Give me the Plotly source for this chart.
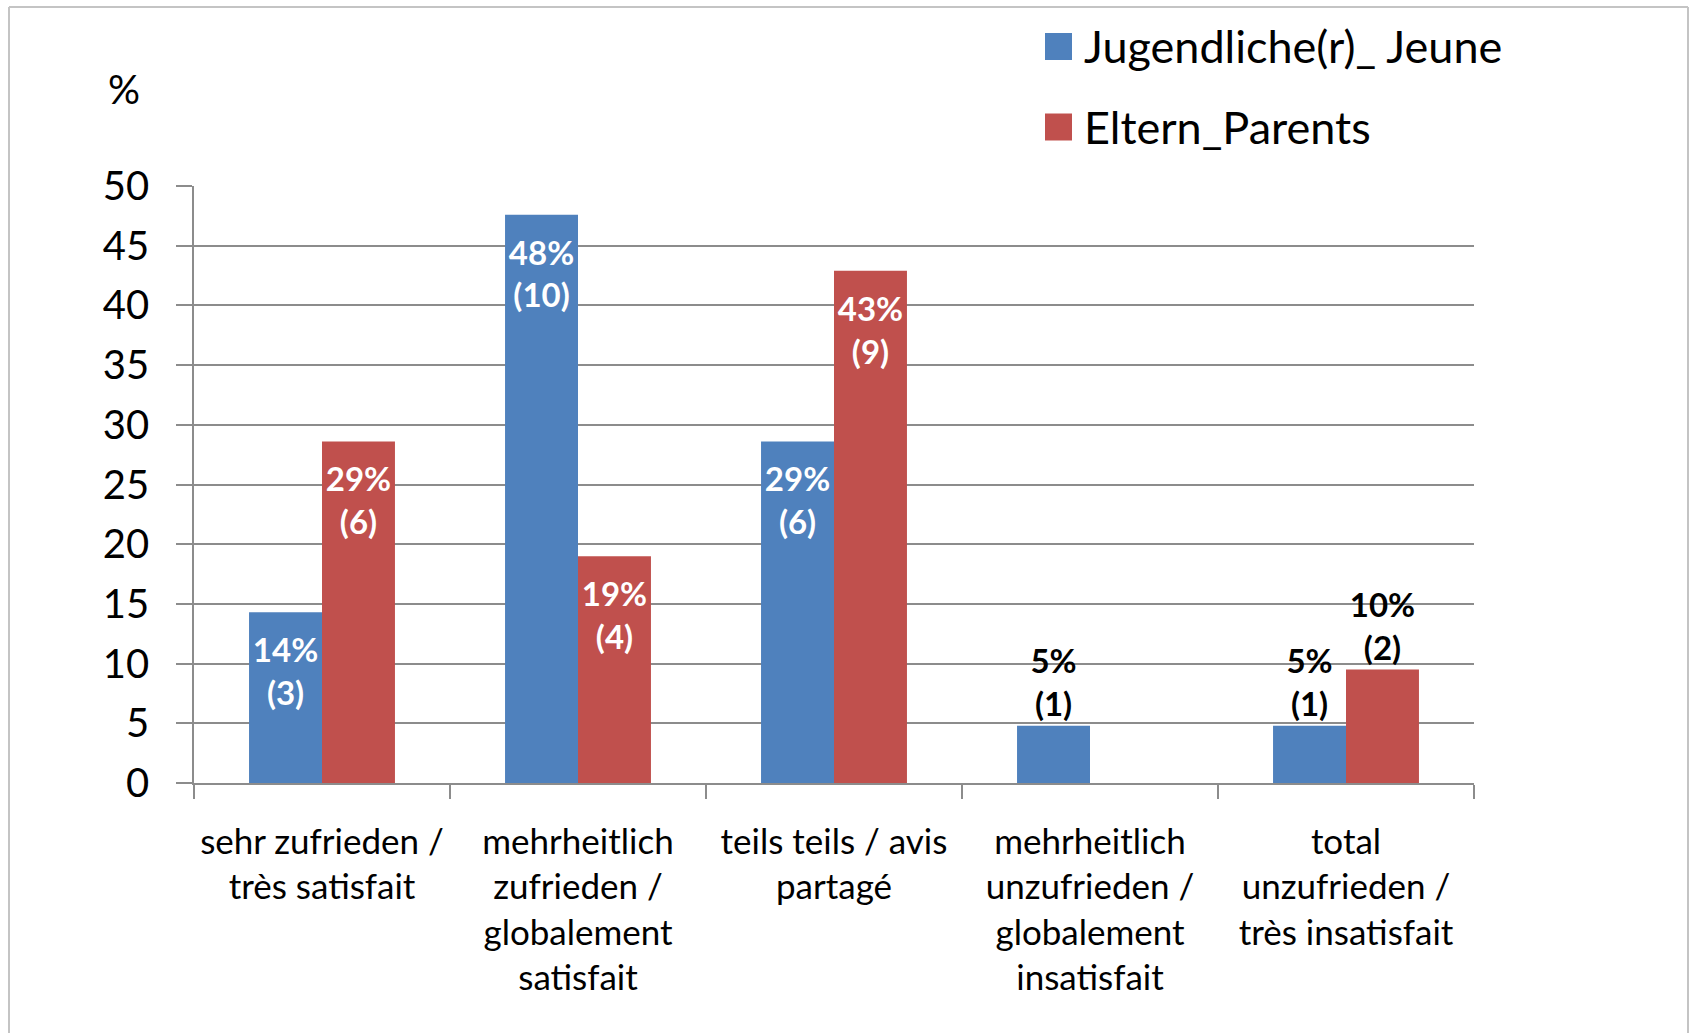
import plotly.graph_objects as go

# ---- data ----
categories = [
    "sehr zufrieden /<br>très satisfait",
    "mehrheitlich<br>zufrieden /<br>globalement<br>satisfait",
    "teils teils / avis<br>partagé",
    "mehrheitlich<br>unzufrieden /<br>globalement<br>insatisfait",
    "total<br>unzufrieden /<br>très insatisfait",
]
series_names = ["Jugendliche(r)_ Jeune", "Eltern_Parents"]
jeune_pct = [14.3, 47.6, 28.6, 4.8, 4.8]
parents_pct = [28.6, 19.0, 42.9, 0.0, 9.5]
jeune_labels = ["14%<br>(3)", "48%<br>(10)", "29%<br>(6)", "5%<br>(1)", "5%<br>(1)"]
parents_labels = ["29%<br>(6)", "19%<br>(4)", "43%<br>(9)", "", "10%<br>(2)"]
y_ticks = [0, 5, 10, 15, 20, 25, 30, 35, 40, 45, 50]

BLUE = "#4F81BD"
RED = "#C0504D"
FONT = "Lato"

W, H = 1692, 1033
ML, MR, MT, MB = 194, 218, 186, 250
PW, PH = W - ML - MR, H - MT - MB


def px_x(x):
    return (x - ML) / PW


def px_y(y):
    return (H - MB - y) / PH


LEAD = "<span style='font-size:4px'>&nbsp;</span><br>"


def styled(labels, vals):
    pos, txt = [], []
    for lab, v in zip(labels, vals):
        if v >= 12:
            pos.append("inside")
            txt.append(LEAD + lab if lab else lab)
        else:
            pos.append("outside")
            txt.append(lab)
    return pos, txt


fig = go.Figure()
for vals, labels, name, color in [
    (jeune_pct, jeune_labels, series_names[0], BLUE),
    (parents_pct, parents_labels, series_names[1], RED),
]:
    pos, txt = styled(labels, vals)
    fig.add_trace(go.Bar(
        x=categories, y=vals, name=name, marker_color=color,
        marker_line_width=0, text=txt, textposition=pos,
        insidetextanchor="end", textangle=0, constraintext="none",
        insidetextfont=dict(family=FONT, size=33, color="white", weight="bold"),
        outsidetextfont=dict(family=FONT, size=33, color="black", weight="bold"),
        cliponaxis=False, showlegend=False, hoverinfo="skip",
    ))

GRID = "#8C8C8C"
fig.update_layout(
    width=W, height=H,
    margin=dict(l=ML, r=MR, t=MT, b=MB, autoexpand=False),
    paper_bgcolor="white", plot_bgcolor="white",
    barmode="group", bargap=0.43, bargroupgap=0,
    font=dict(family=FONT, color="black"),
    xaxis=dict(
        showgrid=False, showline=True, linecolor=GRID, linewidth=1.5,
        ticks="outside", tickson="boundaries", ticklen=14, tickcolor=GRID, tickwidth=1.5,
        tickfont=dict(family=FONT, size=35, color="black"),
        ticklabelstandoff=27,
    ),
    yaxis=dict(
        range=[0, 50], tickvals=y_ticks, showgrid=True, gridcolor=GRID, gridwidth=1.5,
        showline=True, linecolor=GRID, linewidth=1.5,
        ticks="outside", ticklen=16, tickcolor=GRID, tickwidth=1.5,
        tickfont=dict(family=FONT, size=40, color="black"),
        ticklabelstandoff=19, zeroline=False,
    ),
)

# outer chart frame
for (x0, y0, x1, y1) in [(9, 7, 1688, 7), (9, 7, 9, 1040), (1688, 7, 1688, 1040)]:
    fig.add_shape(type="line", xref="paper", yref="paper",
                  x0=px_x(x0), y0=px_y(y0), x1=px_x(x1), y1=px_y(y1),
                  line=dict(color="#C4C4C4", width=2))

# "%" axis unit
fig.add_annotation(text="%", xref="paper", yref="paper", x=px_x(124), y=px_y(89),
                   showarrow=False, xanchor="center", yanchor="middle",
                   font=dict(family=FONT, size=40, color="black"))

# legend (manual, large squares)
for name, color, cy in [(series_names[0], BLUE, 46.5), (series_names[1], RED, 127)]:
    fig.add_shape(type="rect", xref="paper", yref="paper",
                  x0=px_x(1045), x1=px_x(1072), y0=px_y(cy - 13.5), y1=px_y(cy + 13.5),
                  fillcolor=color, line_width=0)
    fig.add_annotation(text=name, xref="paper", yref="paper", x=px_x(1082), y=px_y(cy),
                       showarrow=False, xanchor="left", yanchor="middle",
                       font=dict(family=FONT, size=45, color="black"))

fig.write_html("out.html", config={"displayModeBar": False},
               post_script="document.body.style.margin='0';")
